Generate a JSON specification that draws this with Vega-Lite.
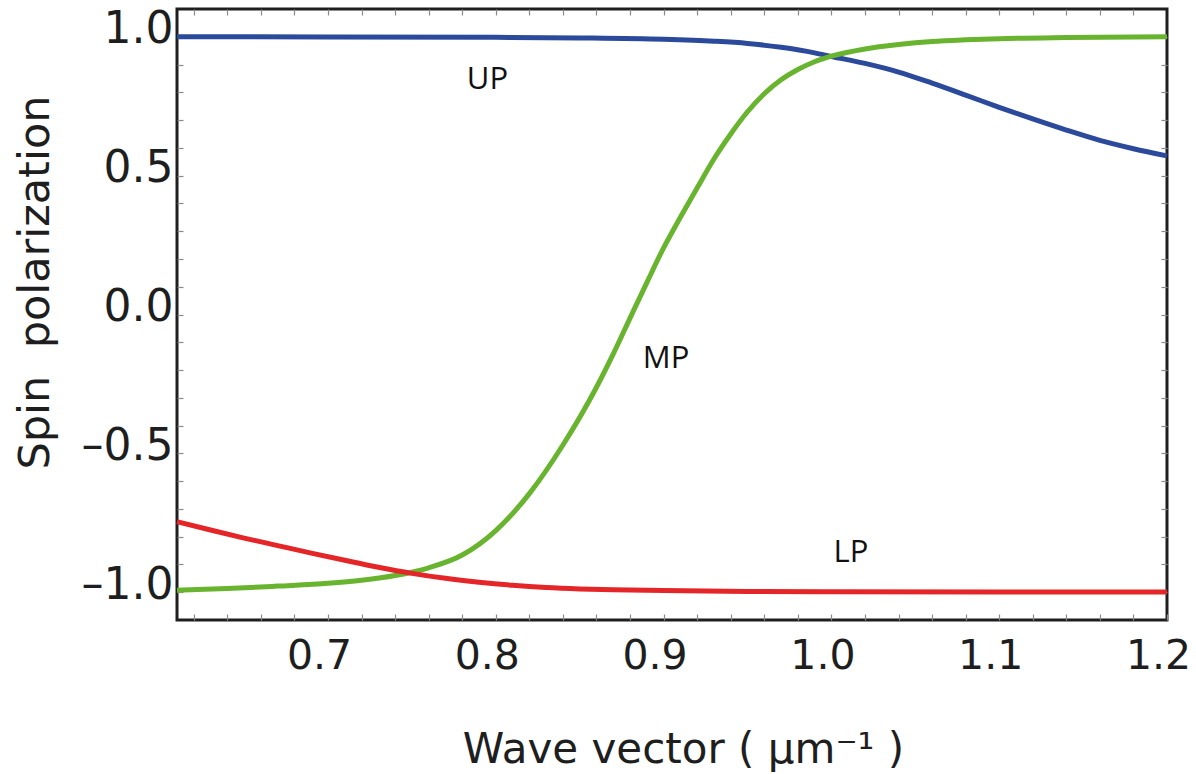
{
  "$schema": "https://vega.github.io/schema/vega-lite/v6.json",
  "width": 990,
  "height": 611,
  "autosize": {"type": "none"},
  "padding": {"left": 177, "top": 9, "right": 29, "bottom": 154},
  "background": "white",
  "datasets": {
    "curves": [
      {"k": 0.61, "p": 1.0, "branch": "UP"},
      {"k": 0.7, "p": 0.9995, "branch": "UP"},
      {"k": 0.8, "p": 0.998, "branch": "UP"},
      {"k": 0.85, "p": 0.996, "branch": "UP"},
      {"k": 0.9, "p": 0.991, "branch": "UP"},
      {"k": 0.93, "p": 0.984, "branch": "UP"},
      {"k": 0.95, "p": 0.976, "branch": "UP"},
      {"k": 0.97, "p": 0.962, "branch": "UP"},
      {"k": 0.99, "p": 0.942, "branch": "UP"},
      {"k": 1.0, "p": 0.929, "branch": "UP"},
      {"k": 1.02, "p": 0.904, "branch": "UP"},
      {"k": 1.04, "p": 0.873, "branch": "UP"},
      {"k": 1.06, "p": 0.833, "branch": "UP"},
      {"k": 1.08, "p": 0.79, "branch": "UP"},
      {"k": 1.1, "p": 0.746, "branch": "UP"},
      {"k": 1.12, "p": 0.704, "branch": "UP"},
      {"k": 1.14, "p": 0.664, "branch": "UP"},
      {"k": 1.16, "p": 0.627, "branch": "UP"},
      {"k": 1.18, "p": 0.597, "branch": "UP"},
      {"k": 1.2, "p": 0.571, "branch": "UP"},

      {"k": 0.61, "p": -0.993, "branch": "MP"},
      {"k": 0.64, "p": -0.987, "branch": "MP"},
      {"k": 0.67, "p": -0.978, "branch": "MP"},
      {"k": 0.7, "p": -0.968, "branch": "MP"},
      {"k": 0.72, "p": -0.957, "branch": "MP"},
      {"k": 0.74, "p": -0.94, "branch": "MP"},
      {"k": 0.76, "p": -0.912, "branch": "MP"},
      {"k": 0.78, "p": -0.866, "branch": "MP"},
      {"k": 0.8, "p": -0.778, "branch": "MP"},
      {"k": 0.82, "p": -0.645, "branch": "MP"},
      {"k": 0.84, "p": -0.47, "branch": "MP"},
      {"k": 0.86, "p": -0.262, "branch": "MP"},
      {"k": 0.87, "p": -0.142, "branch": "MP"},
      {"k": 0.88, "p": -0.013, "branch": "MP"},
      {"k": 0.89, "p": 0.115, "branch": "MP"},
      {"k": 0.9, "p": 0.24, "branch": "MP"},
      {"k": 0.91, "p": 0.35, "branch": "MP"},
      {"k": 0.92, "p": 0.456, "branch": "MP"},
      {"k": 0.93, "p": 0.56, "branch": "MP"},
      {"k": 0.94, "p": 0.65, "branch": "MP"},
      {"k": 0.95, "p": 0.73, "branch": "MP"},
      {"k": 0.96, "p": 0.795, "branch": "MP"},
      {"k": 0.97, "p": 0.845, "branch": "MP"},
      {"k": 0.98, "p": 0.882, "branch": "MP"},
      {"k": 0.99, "p": 0.91, "branch": "MP"},
      {"k": 1.0, "p": 0.93, "branch": "MP"},
      {"k": 1.02, "p": 0.956, "branch": "MP"},
      {"k": 1.04, "p": 0.972, "branch": "MP"},
      {"k": 1.06, "p": 0.983, "branch": "MP"},
      {"k": 1.08, "p": 0.989, "branch": "MP"},
      {"k": 1.1, "p": 0.993, "branch": "MP"},
      {"k": 1.14, "p": 0.997, "branch": "MP"},
      {"k": 1.2, "p": 1.0, "branch": "MP"},

      {"k": 0.61, "p": -0.746, "branch": "LP"},
      {"k": 0.63, "p": -0.776, "branch": "LP"},
      {"k": 0.65, "p": -0.805, "branch": "LP"},
      {"k": 0.67, "p": -0.832, "branch": "LP"},
      {"k": 0.69, "p": -0.859, "branch": "LP"},
      {"k": 0.71, "p": -0.885, "branch": "LP"},
      {"k": 0.73, "p": -0.91, "branch": "LP"},
      {"k": 0.75, "p": -0.932, "branch": "LP"},
      {"k": 0.77, "p": -0.95, "branch": "LP"},
      {"k": 0.79, "p": -0.964, "branch": "LP"},
      {"k": 0.81, "p": -0.975, "branch": "LP"},
      {"k": 0.83, "p": -0.983, "branch": "LP"},
      {"k": 0.85, "p": -0.988, "branch": "LP"},
      {"k": 0.87, "p": -0.991, "branch": "LP"},
      {"k": 0.9, "p": -0.994, "branch": "LP"},
      {"k": 0.95, "p": -0.997, "branch": "LP"},
      {"k": 1.0, "p": -0.998, "branch": "LP"},
      {"k": 1.1, "p": -0.999, "branch": "LP"},
      {"k": 1.2, "p": -0.999, "branch": "LP"}
    ],
    "tags": [
      {"k": 0.795, "p": 0.845, "name": "UP"},
      {"k": 0.9015, "p": -0.162, "name": "MP"},
      {"k": 1.0116, "p": -0.859, "name": "LP"}
    ]
  },
  "layer": [
    {
      "mark": {"type": "rule", "color": "#3a3a3a", "strokeWidth": 1.3},
      "encoding": {
        "y": {"datum": 0, "type": "quantitative", "scale": {"domain": [-1.1, 1.1], "nice": false, "zero": false}, "axis": null}
      }
    },
    {
      "data": {"name": "curves"},
      "mark": {"type": "line", "strokeWidth": 5, "interpolate": "monotone"},
      "encoding": {
        "x": {
          "field": "k", "type": "quantitative",
          "scale": {"domain": [0.61, 1.2], "nice": false, "zero": false},
          "axis": {
            "orient": "bottom",
            "title": "Wave vector ( μm⁻¹ )",
            "values": [0.62, 0.64, 0.66, 0.68, 0.7, 0.72, 0.74, 0.76, 0.78, 0.8, 0.82, 0.84, 0.86, 0.88, 0.9, 0.92, 0.94, 0.96, 0.98, 1.0, 1.02, 1.04, 1.06, 1.08, 1.1, 1.12, 1.14, 1.16, 1.18, 1.2],
            "labelExpr": "abs(datum.value * 10 - round(datum.value * 10)) < 0.001 ? format(datum.value, '.1f') : ''",
            "labelFontSize": 41,
            "labelOffset": -9,
            "labelPadding": 22,
            "titleX": 506,
            "titleY": 142,
            "titleBaseline": "alphabetic"
          }
        },
        "y": {
          "field": "p", "type": "quantitative",
          "scale": {"domain": [-1.1, 1.1], "nice": false, "zero": false},
          "axis": {
            "orient": "left",
            "title": "Spin\u00a0 polarization",
            "values": [-1.0, -0.9, -0.8, -0.7, -0.6, -0.5, -0.4, -0.3, -0.2, -0.1, 0.0, 0.1, 0.2, 0.3, 0.4, 0.5, 0.6, 0.7, 0.8, 0.9, 1.0],
            "labelExpr": "abs(datum.value * 2 - round(datum.value * 2)) < 0.001 ? replace(format(datum.value, '.1f'), '−', '–') : ''",
            "labelOffset": -7,
            "labelPadding": 10,
            "titleX": -142,
            "titleY": 273,
            "titleAngle": -90,
            "titleFontSize": 43,
            "titleBaseline": "middle"
          }
        },
        "color": {
          "field": "branch", "type": "nominal",
          "scale": {"domain": ["UP", "MP", "LP"], "range": ["#2b4a9b", "#69b42e", "#e52629"]},
          "legend": null
        }
      }
    },
    {
      "data": {"name": "curves"},
      "mark": {"type": "point", "opacity": 0},
      "encoding": {
        "x": {
          "field": "k", "type": "quantitative",
          "scale": {"domain": [0.61, 1.2], "nice": false, "zero": false},
          "axis": {
            "orient": "top", "title": null, "labels": false,
            "values": [0.62, 0.64, 0.66, 0.68, 0.7, 0.72, 0.74, 0.76, 0.78, 0.8, 0.82, 0.84, 0.86, 0.88, 0.9, 0.92, 0.94, 0.96, 0.98, 1.0, 1.02, 1.04, 1.06, 1.08, 1.1, 1.12, 1.14, 1.16, 1.18]
          }
        },
        "y": {
          "field": "p", "type": "quantitative",
          "scale": {"domain": [-1.1, 1.1], "nice": false, "zero": false},
          "axis": {
            "orient": "right", "title": null, "labels": false,
            "values": [-1.0, -0.9, -0.8, -0.7, -0.6, -0.5, -0.4, -0.3, -0.2, -0.1, 0.0, 0.1, 0.2, 0.3, 0.4, 0.5, 0.6, 0.7, 0.8, 0.9, 1.0]
          }
        }
      }
    },
    {
      "data": {"name": "tags"},
      "mark": {"type": "text", "font": "Open Sans", "fontSize": 31, "color": "#111", "baseline": "middle", "align": "center"},
      "encoding": {
        "x": {"field": "k", "type": "quantitative", "scale": {"domain": [0.61, 1.2], "nice": false, "zero": false}, "axis": null},
        "y": {"field": "p", "type": "quantitative", "scale": {"domain": [-1.1, 1.1], "nice": false, "zero": false}, "axis": null},
        "text": {"field": "name"}
      }
    }
  ],
  "resolve": {"axis": {"x": "independent", "y": "independent"}},
  "config": {
    "view": {"stroke": "#1e1e1e", "strokeWidth": 3},
    "axis": {
      "domain": false,
      "grid": false,
      "tickSize": -6,
      "tickColor": "#8a8a8a",
      "tickWidth": 1.2,
      "labelFont": "DejaVu Sans",
      "labelFontSize": 44,
      "labelColor": "#1e1e1e",
      "labelOverlap": false,
      "labelBound": false,
      "labelFlush": false,
      "titleFont": "DejaVu Sans",
      "titleFontSize": 42,
      "titleFontWeight": "normal",
      "titleColor": "#1e1e1e"
    }
  }
}
